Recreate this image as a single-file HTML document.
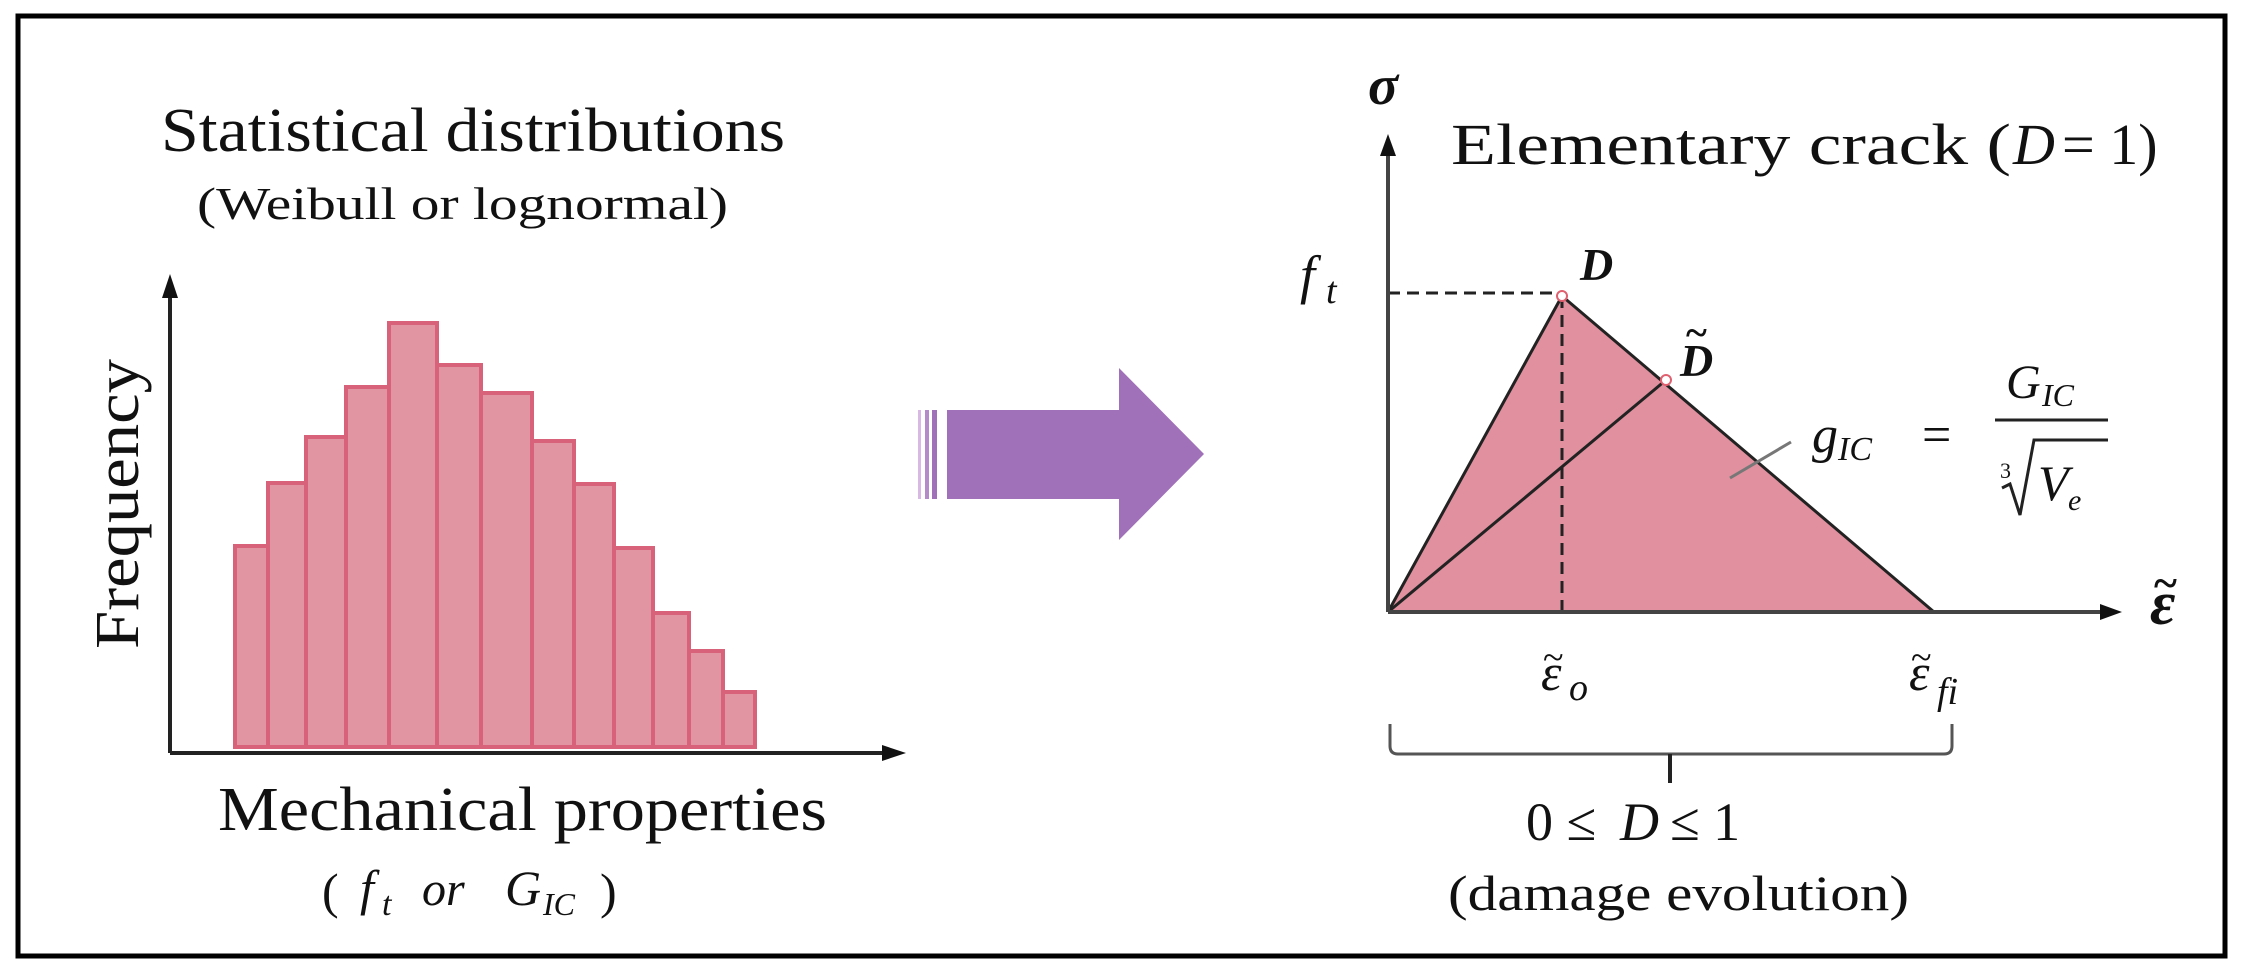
<!DOCTYPE html>
<html><head><meta charset="utf-8"><style>
html,body{margin:0;padding:0;background:#fff;}
svg{display:block;}
text{font-family:"Liberation Serif",serif;fill:#111;}
.m{font-family:"Liberation Serif",serif;font-style:italic;}
</style></head><body>
<svg width="2244" height="978" viewBox="0 0 2244 978" xmlns="http://www.w3.org/2000/svg">
<rect x="18" y="16" width="2207" height="940" fill="#fff" stroke="#000" stroke-width="5"/>

<text x="161" y="151" font-size="62" textLength="624" lengthAdjust="spacingAndGlyphs">Statistical distributions</text>
<text x="197" y="219" font-size="46" textLength="531" lengthAdjust="spacingAndGlyphs">(Weibull or lognormal)</text>

<g fill="#e0909e" stroke="#d65a72" stroke-width="4" opacity="0.95">
<rect x="235" y="546" width="33" height="201"/>
<rect x="268" y="483" width="38" height="264"/>
<rect x="306" y="437" width="40" height="310"/>
<rect x="346" y="387" width="43" height="360"/>
<rect x="389" y="323" width="48" height="424"/>
<rect x="437" y="365" width="44" height="382"/>
<rect x="481" y="393" width="51" height="354"/>
<rect x="532" y="441" width="42" height="306"/>
<rect x="574" y="484" width="40" height="263"/>
<rect x="614" y="548" width="39" height="199"/>
<rect x="653" y="613" width="36" height="134"/>
<rect x="689" y="651" width="34" height="96"/>
<rect x="723" y="692" width="32" height="55"/>
</g>
<line x1="170" y1="753" x2="170" y2="290" stroke="#222" stroke-width="4"/>
<polygon points="170,274 162,298 178,298" fill="#111"/>
<line x1="170" y1="753" x2="888" y2="753" stroke="#222" stroke-width="4"/>
<polygon points="906,753 882,745 882,761" fill="#111"/>
<text transform="translate(138,504) rotate(-90)" font-size="62" text-anchor="middle" textLength="290" lengthAdjust="spacingAndGlyphs">Frequency</text>

<text x="218" y="830" font-size="62" textLength="609" lengthAdjust="spacingAndGlyphs">Mechanical properties</text>
<text x="322" y="908" font-size="50">(</text>
<text x="360" y="905" font-size="50" class="m">f</text><text x="382" y="915" font-size="34" class="m">t</text>
<text x="422" y="905" font-size="48" class="m">or</text>
<text x="505" y="905" font-size="50" class="m">G</text><text x="543" y="915" font-size="32" class="m">IC</text>
<text x="600" y="908" font-size="50">)</text>

<rect x="918" y="410" width="3" height="89" fill="#d7b9e3"/>
<rect x="925" y="410" width="4" height="89" fill="#b48ac8"/>
<rect x="932" y="410" width="5" height="89" fill="#a070b8"/>
<polygon points="947,410 1119,410 1119,368 1204,454 1119,540 1119,499 947,499" fill="#a070b8"/>

<text x="1368" y="104" font-size="56" font-weight="bold" class="m">σ</text>
<text x="1451" y="164" font-size="58" textLength="560" lengthAdjust="spacingAndGlyphs">Elementary crack (</text>
<text x="2013" y="164" font-size="58" class="m">D</text>
<text x="2062" y="164" font-size="58">= 1)</text>

<polygon points="1388,612 1562,296 1934,612" fill="#e0909e"/>
<line x1="1388" y1="612" x2="1562" y2="296" stroke="#222" stroke-width="3"/>
<line x1="1562" y1="296" x2="1934" y2="612" stroke="#222" stroke-width="3"/>
<line x1="1388" y1="612" x2="1666" y2="380" stroke="#222" stroke-width="3"/>
<line x1="1388" y1="293" x2="1562" y2="293" stroke="#222" stroke-width="3" stroke-dasharray="12,7"/>
<line x1="1562" y1="296" x2="1562" y2="612" stroke="#222" stroke-width="3" stroke-dasharray="12,7"/>
<circle cx="1562" cy="296" r="5" fill="#fff" stroke="#e06070" stroke-width="2"/>
<circle cx="1666" cy="380" r="5" fill="#fff" stroke="#e06070" stroke-width="2"/>
<line x1="1730" y1="478" x2="1791" y2="442" stroke="#777" stroke-width="3"/>

<line x1="1388" y1="612" x2="1388" y2="150" stroke="#444" stroke-width="4"/>
<polygon points="1388,134 1380,156 1396,156" fill="#111"/>
<line x1="1388" y1="612" x2="2105" y2="612" stroke="#444" stroke-width="4"/>
<polygon points="2122,612 2100,604 2100,620" fill="#111"/>
<text x="2150" y="624" font-size="62" font-weight="bold" class="m">ε</text>
<text x="2154" y="598" font-size="44" font-weight="bold">~</text>

<text x="1300" y="293" font-size="54" class="m">f</text><text x="1326" y="303" font-size="38" class="m">t</text>
<text x="1580" y="280" font-size="46" font-weight="bold" class="m">D</text>
<text x="1680" y="376" font-size="46" font-weight="bold" class="m">D</text>
<text x="1686" y="346" font-size="40" font-weight="bold">~</text>

<text x="1812" y="452" font-size="52" class="m">g</text><text x="1838" y="460" font-size="34" class="m">IC</text>
<text x="1922" y="452" font-size="52">=</text>
<text x="2006" y="398" font-size="48" class="m">G</text><text x="2042" y="406" font-size="32" class="m">IC</text>
<line x1="1995" y1="420" x2="2108" y2="420" stroke="#222" stroke-width="3"/>
<text x="2000" y="478" font-size="22">3</text>
<polyline points="2002,488 2010,484 2020,515 2034,440 2108,440" fill="none" stroke="#222" stroke-width="3"/>
<text x="2038" y="500" font-size="50" class="m">V</text><text x="2068" y="510" font-size="30" class="m">e</text>

<text x="1541" y="690" font-size="52" class="m">ε</text><text x="1543" y="670" font-size="38">~</text><text x="1569" y="700" font-size="38" class="m">o</text>
<text x="1909" y="690" font-size="52" class="m">ε</text><text x="1911" y="670" font-size="38">~</text><text x="1937" y="704" font-size="38" class="m">fi</text>

<path d="M1390,724 L1390,746 Q1390,754 1398,754 L1944,754 Q1952,754 1952,746 L1952,724" fill="none" stroke="#555" stroke-width="3"/>
<line x1="1670" y1="754" x2="1670" y2="783" stroke="#222" stroke-width="4"/>

<text x="1526" y="840" font-size="54">0 ≤</text>
<text x="1620" y="840" font-size="54" class="m">D</text>
<text x="1670" y="840" font-size="54">≤ 1</text>
<text x="1448" y="910" font-size="50" textLength="461" lengthAdjust="spacingAndGlyphs">(damage evolution)</text>
</svg>
</body></html>
